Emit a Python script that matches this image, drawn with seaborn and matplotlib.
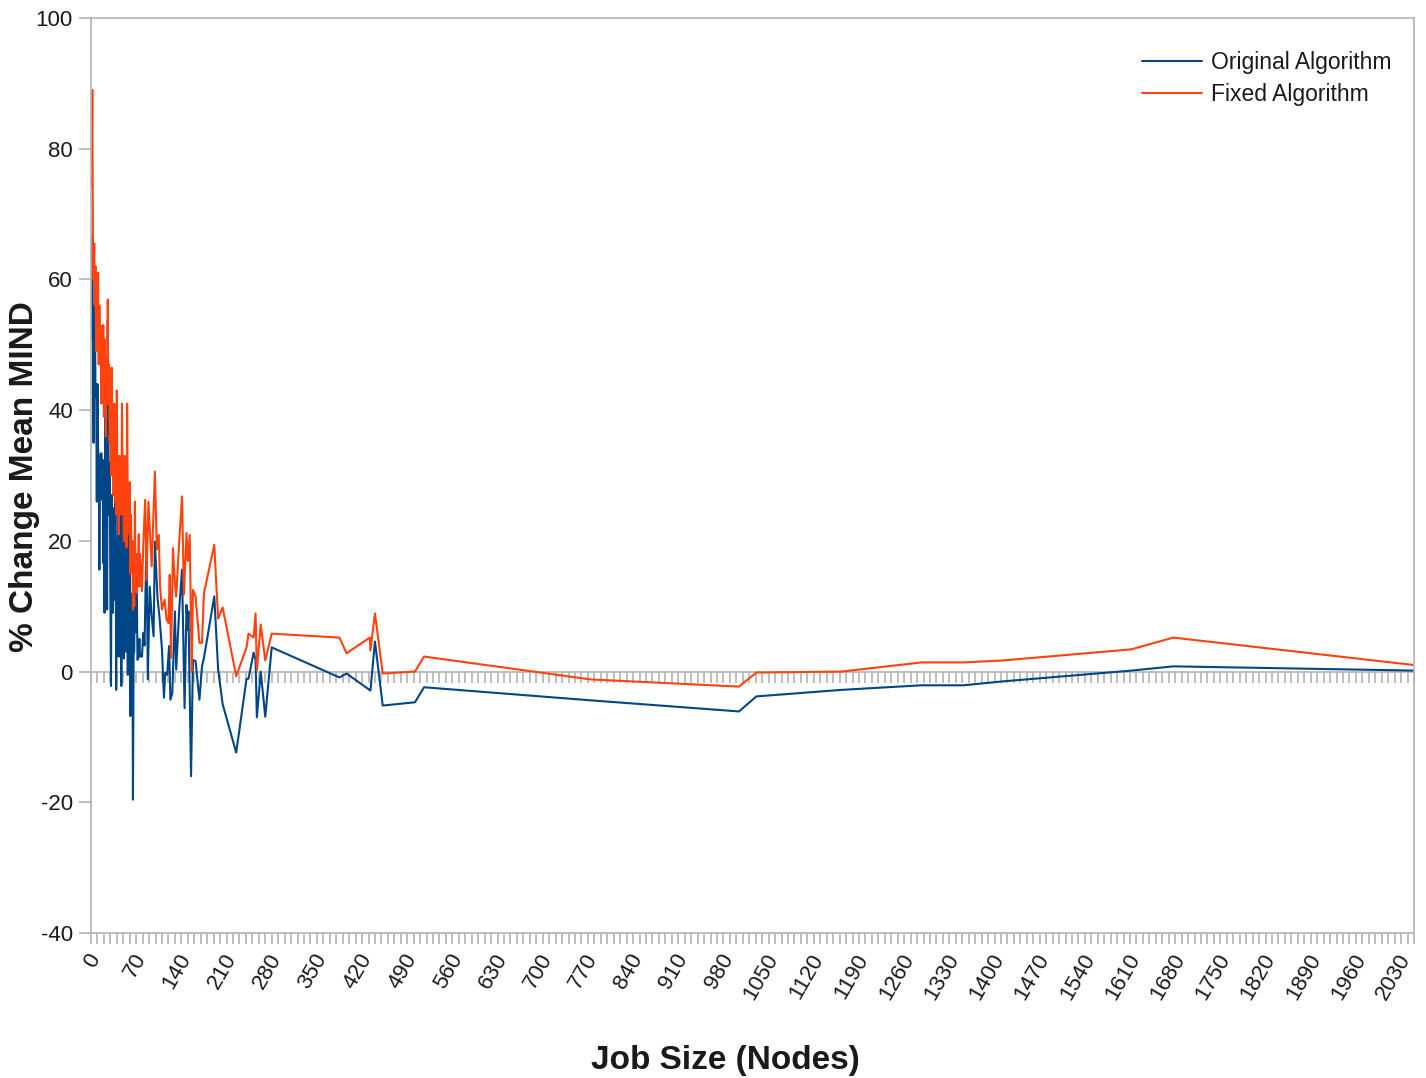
import numpy as np
import pandas as pd
import matplotlib
matplotlib.use("Agg")
import matplotlib.pyplot as plt
import matplotlib.transforms as mtransforms
from matplotlib.ticker import MultipleLocator
import seaborn as sns

sns.set_style("white")
plt.rcParams['font.family'] = ['Liberation Sans', 'DejaVu Sans']
plt.rcParams['axes.unicode_minus'] = False

# ---------------- data ----------------
orig_x = [1, 2, 3, 4, 5, 6, 7, 8, 9, 10, 11, 12, 13, 14, 15, 16, 17, 18, 19, 20,
          21, 22, 23, 24, 25, 26, 27, 28, 29, 30, 31, 32, 33, 34, 35, 36, 37, 38, 39, 40,
          41, 42, 43, 44, 45, 46, 47, 48, 49, 50, 51, 52, 53, 54, 55, 56, 57, 58, 59, 60,
          61, 62, 63, 64, 65, 66, 67, 68, 69, 70, 71, 72, 73, 74, 75, 76,
          79, 81, 83, 86, 88, 91, 94, 97, 99, 103, 106, 110, 113, 115, 118, 121, 123, 126,
          130, 132, 137, 141, 145, 148, 150, 151, 155, 158, 162, 168, 172, 175,
          191, 197, 204, 225, 241, 244, 252, 255, 257, 263, 270, 280,
          385, 396, 433, 440, 452, 502, 516, 774, 1004, 1031, 1163, 1287, 1352, 1413,
          1612, 1677, 2050]
orig_y = [50.8, 66.6, 51, 35, 56, 55.9, 42, 44, 26, 44, 34, 33, 15.6, 33, 29, 33.4, 26.3, 32.4, 16.6, 30,
          9, 41, 16.6, 22, 9.5, 53.8, 34.5, 24, 31.9, 12, -2.2, 27, 22, 9, 25, 11, 21, 27, -2.8, 20,
          13, 24, 2.3, 27, 12, 18, -2.2, 25, 10, 14, 2, 27.8, 8, 16, 3, 23, -0.5, 14, 3, 26,
          -6.8, 10, -2, 12, -19.6, 2.8, 3, 18.1, 6, 9, 12, 1.8, 2, 3, 5, 2.3,
          2.3, 5.9, 4, 21, -1.2, 13, 8.5, 5.4, 19.9, 11.3, 8.5, 3.4, -4, -0.2, -0.5, 3.9, -4.3, -3.3,
          9.2, 0.3, 10, 15.6, -5.6, 10.2, 6.4, 9.2, -16, 1.8, 1.6, -4.3, 0.8, 2.1,
          11.5, 0.3, -5.0, -12.4, -1.1, -1.1, 2.9, 1.8, -7.0, 0, -6.9, 3.7,
          -0.9, -0.3, -2.9, 4.6, -5.2, -4.7, -2.4, -4.4, -6.1, -3.8, -2.8, -2.1, -2.1, -1.5,
          0.15, 0.8, 0.15]

fixed_x = [1, 2, 3, 4, 5, 6, 7, 8, 9, 10, 11, 12, 13, 14, 15, 16, 17, 18, 19, 20,
           21, 22, 23, 24, 25, 26, 27, 28, 29, 30, 31, 32, 33, 34, 35, 36, 37, 38, 39, 40,
           41, 42, 43, 44, 45, 46, 47, 48, 49, 50, 51, 52, 53, 54, 55, 56, 57, 58, 59, 60,
           61, 62, 63, 64, 65, 66, 67, 68, 69, 70, 71, 72, 73, 74, 75, 76,
           79, 81, 84, 86, 89, 94, 99, 102, 105, 107, 110, 114, 117, 120, 122, 124, 127,
           130, 132, 136, 141, 144, 148, 150, 153, 156, 158, 162, 168, 172, 175,
           191, 197, 204, 225, 241, 244, 252, 255, 257, 263, 270, 280,
           385, 396, 432, 433, 440, 452, 502, 516, 774, 1004, 1031, 1163, 1287, 1352, 1413,
           1612, 1677, 2050]
fixed_y = [74, 89, 65, 60, 65.5, 56, 62, 49, 61, 55, 61, 47, 56, 48.7, 53, 41, 51, 46, 53, 39,
           50.8, 44, 36, 48, 41, 56.9, 41, 47, 35, 39, 30, 46.5, 32, 38, 27, 41, 26, 30, 24, 43,
           29, 28, 21, 33, 27, 31, 24, 41, 30, 26, 20, 33, 25, 29, 19, 41, 24, 28, 21, 29,
           15, 24, 15.6, 20, 9.5, 14, 10, 26, 12.5, 18, 12, 14, 16, 21, 13, 18,
           12.3, 19.4, 26.3, 14, 26, 16.1, 30.6, 18.7, 20.9, 13, 9.5, 11, 8, 7.4, 14.8, 2.1, 18.9,
           13.6, 11.5, 18.7, 26.8, 11.8, 21.2, 16.9, 20.9, 0, 12.5, 11.5, 4.4, 4.4, 12,
           19.4, 8.1, 9.8, -0.7, 3.7, 5.8, 5.2, 8.9, 0.2, 7.2, 1.7, 5.8,
           5.2, 2.8, 5.2, 3.2, 8.9, -0.3, 0, 2.3, -1.2, -2.3, -0.15, 0, 1.4, 1.4, 1.7,
           3.4, 5.2, 1.0]

series_names = ["Original Algorithm", "Fixed Algorithm"]
series_colors = ["#004586", "#ff420e"]

df = pd.concat([
    pd.DataFrame({"x": orig_x, "y": orig_y, "series": series_names[0]}),
    pd.DataFrame({"x": fixed_x, "y": fixed_y, "series": series_names[1]}),
], ignore_index=True)

# ---------------- figure ----------------
W, H = 1426, 1078
fig = plt.figure(figsize=(W / 100, H / 100), dpi=100)
fig.patch.set_facecolor("white")
ax = fig.add_axes([91 / W, 1 - 933 / H, (1414 - 91) / W, (933 - 18) / H])

sns.lineplot(data=df, x="x", y="y", hue="series", hue_order=series_names,
             palette=series_colors, estimator=None, sort=False, linewidth=1.5,
             ax=ax, legend=True)

axis_gray = "#b3b3b3"
ax.set_xlim(0, 2050)
ax.set_ylim(-40, 100)
ax.yaxis.set_major_locator(MultipleLocator(20))
ax.xaxis.set_major_locator(MultipleLocator(70))
ax.xaxis.set_minor_locator(MultipleLocator(10))

for s in ax.spines.values():
    s.set_color(axis_gray)
    s.set_linewidth(1.2)

ax.tick_params(axis="y", which="major", direction="out", length=9, width=1.2,
               color=axis_gray, labelsize=16, pad=4, left=True, labelcolor="#1a1a1a")
ax.tick_params(axis="x", which="both", direction="out", length=8, width=1.2,
               color=axis_gray, bottom=True)
ax.tick_params(axis="x", which="major", labelsize=16, pad=8, labelcolor="#1a1a1a")
offset = mtransforms.ScaledTranslation(5 / 100, 0, fig.dpi_scale_trans)
for lab in ax.get_xticklabels():
    lab.set_rotation(60)
    lab.set_ha("right")
    lab.set_va("center")
    lab.set_rotation_mode("anchor")
    lab.set_transform(lab.get_transform() + offset)

# axis line through zero with hanging ticks
zero_frac = (0 - (-40)) / (100 - (-40))
sec = ax.secondary_xaxis(zero_frac)
sec.xaxis.set_major_locator(MultipleLocator(10))
sec.tick_params(axis="x", which="both", direction="out", length=8, width=1.2,
                color=axis_gray, labelbottom=False, labeltop=False)
for s in sec.spines.values():
    s.set_color(axis_gray)
    s.set_linewidth(1.2)

ax.set_xlabel("")
ax.set_ylabel("")
fig.text(725 / W, 1 - 1060 / H, "Job Size (Nodes)", fontsize=24, fontweight="bold",
         ha="center", va="center", color="#1a1a1a")
fig.text(25 / W, 1 - 477 / H, "% Change Mean MIND", fontsize=24, fontweight="bold",
         ha="center", va="center", rotation=90, color="#1a1a1a")

leg = ax.legend(frameon=False, loc="upper right", bbox_to_anchor=(0.9985, 0.986),
                fontsize=16.5, handlelength=2.6, handletextpad=0.4, labelspacing=0.38)
for t in leg.get_texts():
    t.set_color("#1a1a1a")

fig.savefig("out.png", dpi=100, facecolor="white")
